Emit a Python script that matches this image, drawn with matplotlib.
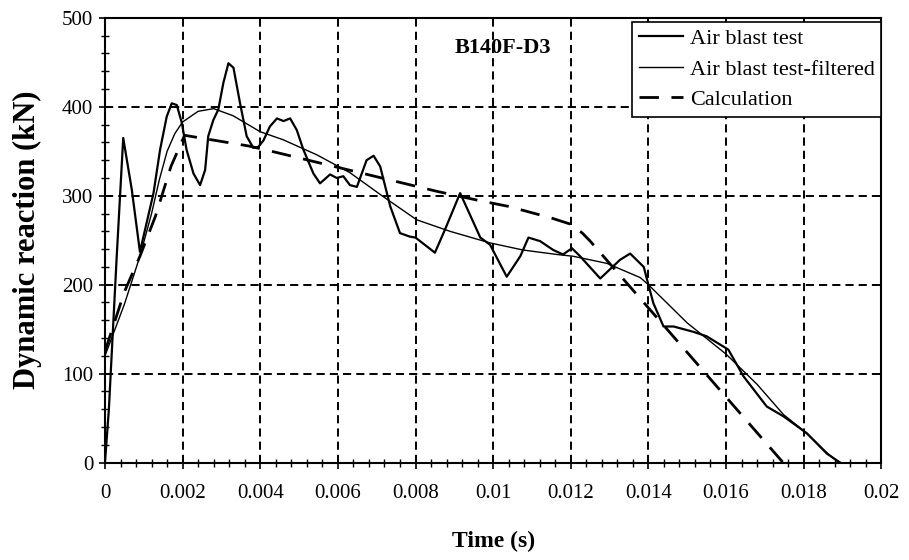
import matplotlib
matplotlib.use("Agg")
import matplotlib.pyplot as plt
from matplotlib.ticker import MultipleLocator, FixedLocator, FixedFormatter

plt.rcParams['font.family'] = ['Liberation Serif', 'DejaVu Serif']

# air blast test (raw signal), time in s, reaction in kN
raw_t = [0, 0.0001, 0.0003, 0.00047, 0.00069, 0.0009, 0.00125, 0.00142, 0.00159,
         0.00172, 0.00185, 0.00198, 0.0021, 0.00228, 0.00245, 0.00258, 0.00266,
         0.00279, 0.00292, 0.00305, 0.00318, 0.00331, 0.00348, 0.00365, 0.00382,
         0.00395, 0.00408, 0.00425, 0.00443, 0.0046, 0.00477, 0.00494, 0.00511,
         0.00537, 0.00554, 0.0058, 0.00597, 0.00614, 0.00631, 0.00649, 0.00674,
         0.00692, 0.00709, 0.00735, 0.0076, 0.00786, 0.008, 0.0085, 0.00876,
         0.00915, 0.00967, 0.00992, 0.01035, 0.0107, 0.01091, 0.01121, 0.01155,
         0.0118, 0.01203, 0.01224, 0.01276, 0.01327, 0.01353, 0.01388, 0.014,
         0.01413, 0.01439, 0.01465, 0.01516, 0.0155, 0.01606, 0.01645, 0.01705,
         0.01748, 0.01808, 0.0186, 0.01894]
raw_v = [0, 60, 230, 365, 307, 237, 303, 352, 389,
         404, 402, 382, 352, 325, 312, 329, 367,
         385, 397, 427, 449, 444, 404, 367, 354,
         355, 362, 378, 387, 384, 387, 374, 352,
         325, 314, 324, 320, 322, 312, 310, 340,
         345, 333, 288, 258, 254, 253, 236, 262,
         303, 253, 245, 209, 232, 253, 249, 239,
         234, 241, 232, 207, 228, 235, 220, 200,
         179, 153, 153, 147, 142, 127, 97, 63,
         52, 33, 10, 0]

# air blast test, filtered
filt_t = [0, 0.0005, 0.0009, 0.0012, 0.0014, 0.0016, 0.0018, 0.002, 0.0024,
          0.0028, 0.0033, 0.004, 0.00459, 0.00546, 0.00631, 0.00717, 0.00803,
          0.00889, 0.00992, 0.01077, 0.01164, 0.01206, 0.01293, 0.01379, 0.014,
          0.015, 0.016, 0.0168, 0.01748, 0.01808, 0.0186, 0.0189]
filt_v = [120, 178, 232, 280, 318, 350, 370, 383, 395,
          398, 390, 372, 363, 346, 326, 299, 273,
          260, 247, 239, 234, 232, 224, 208, 200,
          157, 122, 88, 54, 33, 11, 0]

# calculation
calc_t = [0, 0.0005, 0.0009, 0.0013, 0.0017, 0.00205, 0.0037, 0.0042, 0.00855,
          0.0096, 0.0104, 0.0115, 0.012, 0.0123, 0.0125, 0.014, 0.01747]
calc_v = [125, 192, 232, 277, 333, 368, 356, 351, 305,
          295, 288, 275, 268, 258, 249, 174, 0]

x_ticks = [0, 0.002, 0.004, 0.006, 0.008, 0.01, 0.012, 0.014, 0.016, 0.018, 0.02]
x_labels = ['0', '0.002', '0.004', '0.006', '0.008', '0.01', '0.012', '0.014',
            '0.016', '0.018', '0.02']
y_ticks = [0, 100, 200, 300, 400, 500]

fig = plt.figure(figsize=(9.09, 5.6), dpi=100)
ax = fig.add_axes([0.1155, 0.174, 0.854, 0.794])

ax.plot(raw_t, raw_v, color='black', lw=1.6, label='Air blast test', zorder=3)
ax.plot(filt_t, filt_v, color='black', lw=1.0, label='Air blast test-filtered', zorder=3)
ax.plot(calc_t, calc_v, color='black', lw=2.0, dashes=(7, 4.5), label='Calculation', zorder=3)

ax.set_xlim(0, 0.02)
ax.set_ylim(0, 500)
ax.xaxis.set_major_locator(FixedLocator(x_ticks))
ax.xaxis.set_major_formatter(FixedFormatter(x_labels))
ax.xaxis.set_minor_locator(MultipleLocator(0.0004))
ax.yaxis.set_major_locator(FixedLocator(y_ticks))
ax.yaxis.set_minor_locator(MultipleLocator(20))

ax.grid(True, which='major', color='black', lw=1.4, linestyle=(0, (4.2, 2.6)))
ax.tick_params(which='major', direction='inout', length=9, width=1.2, labelsize=15)
ax.tick_params(which='minor', direction='inout', length=6, width=1.0)
ax.tick_params(axis='x', pad=11)
ax.tick_params(axis='y', pad=4)
for s in ax.spines.values():
    s.set_linewidth(1.5)

ax.set_xlabel('Time (s)', fontsize=17, fontweight='bold', labelpad=20)
ax.set_ylabel('Dynamic reaction (kN)', fontsize=22, fontweight='bold', labelpad=14)

ax.text(0.01024, 466, 'B140F-D3', fontsize=16, fontweight='bold',
        ha='center', va='center')

leg = ax.legend(loc='upper right', bbox_to_anchor=(1.0, 0.991), fontsize=16,
                frameon=True, fancybox=False, framealpha=1, edgecolor='black',
                handlelength=2.0, labelspacing=0.45, borderpad=0.3,
                handletextpad=0.3, borderaxespad=0)
leg.get_frame().set_linewidth(1.2)

fig.savefig('out.png', dpi=100)
